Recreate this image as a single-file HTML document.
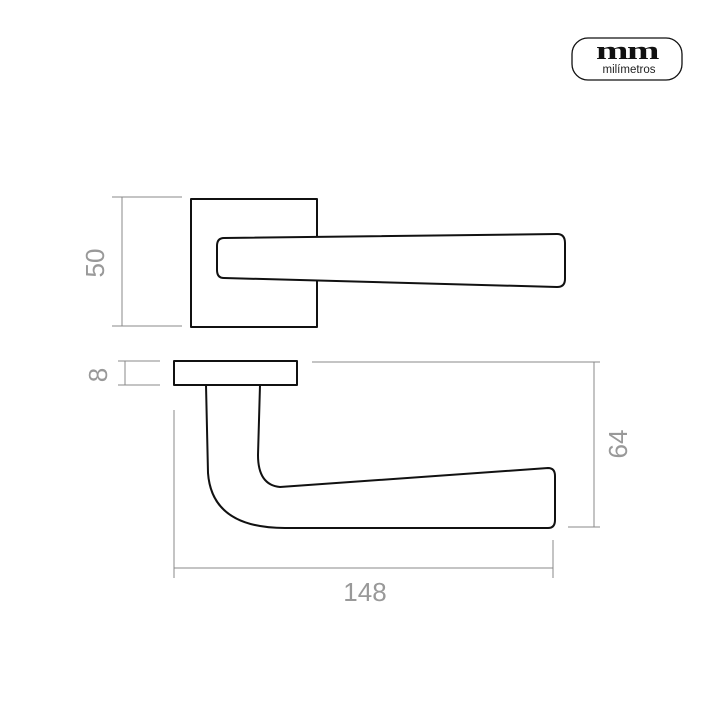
<!DOCTYPE html>
<html><head><style>body{margin:0;background:#fff}svg{display:block}</style></head><body>
<svg width="721" height="720" viewBox="0 0 721 720" xmlns="http://www.w3.org/2000/svg">
<rect x="572" y="38" width="110" height="42" rx="16" fill="none" stroke="#111" stroke-width="1.3"/>
<text transform="translate(627,59) scale(1.5,1)" text-anchor="middle" font-family="Liberation Serif,serif" font-weight="bold" font-size="26" fill="#111" letter-spacing="-1">mm</text>
<text x="629" y="73" text-anchor="middle" font-family="Liberation Sans,sans-serif" font-size="11.5" fill="#222">milímetros</text>
<g stroke="#888" stroke-width="1" fill="none">
<line x1="112" y1="197" x2="182" y2="197"/><line x1="112" y1="326" x2="182" y2="326"/><line x1="122" y1="197" x2="122" y2="326"/>
<line x1="118" y1="361" x2="160" y2="361"/><line x1="118" y1="385" x2="160" y2="385"/><line x1="125" y1="361" x2="125" y2="385"/>
<line x1="312" y1="362" x2="600" y2="362"/><line x1="568" y1="527" x2="600" y2="527"/><line x1="594" y1="362" x2="594" y2="527"/>
<line x1="174" y1="410" x2="174" y2="578"/><line x1="553" y1="540" x2="553" y2="578"/><line x1="174" y1="568" x2="553" y2="568"/>
</g>
<g stroke="#111" stroke-width="2" fill="none" stroke-linejoin="round">
<path d="M317 236 V199 H191 V327 H317 V281"/>
<path d="M224 238 L557 234 Q565 234 565 243 L565 279 Q565 287 557 287 L224 278 Q217 278 217 270 L217 246 Q217 238 224 238 Z" fill="#fff"/>
<rect x="174" y="361" width="123" height="24"/>
<path d="M206 385 L208 473 Q212 528 285 528 L548 528 Q555 528 555 520 L555 476 Q555 468 548 468 L280 487 Q258 485 258 455 L260 385"/>
</g>
<g font-family="Liberation Sans,sans-serif" font-size="26" fill="#999">
<text transform="translate(104,263) rotate(-90)" text-anchor="middle">50</text>
<text transform="translate(107,375) rotate(-90)" text-anchor="middle">8</text>
<text transform="translate(627,444) rotate(-90)" text-anchor="middle">64</text>
<text x="365" y="601" text-anchor="middle">148</text>
</g>
</svg>
</body></html>
